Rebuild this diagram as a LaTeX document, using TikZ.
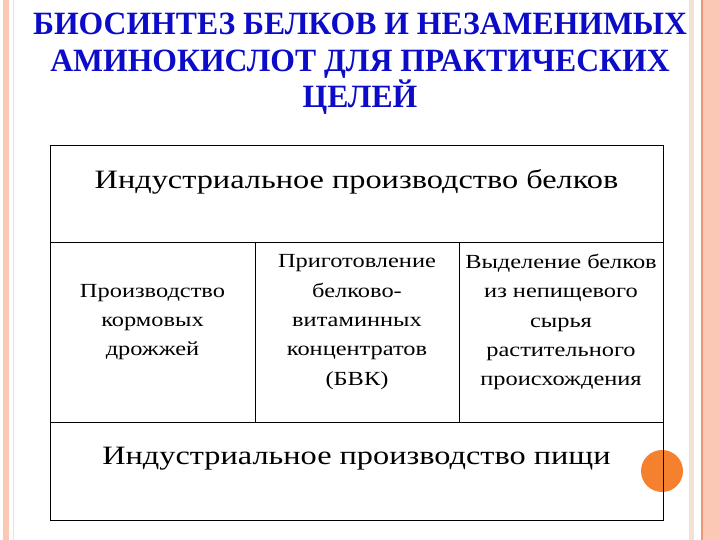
\documentclass[tikz,border=0pt]{standalone}
\usepackage{fontspec}
\setmainfont{Liberation Serif}
\newfontfamily\widefont[FakeStretch=1.22]{Liberation Serif}
\newfontfamily\titlefont[FakeStretch=0.975]{Liberation Serif}
\usetikzlibrary{positioning}

\definecolor{titleblue}{RGB}{12,12,200}
\definecolor{dotorange}{RGB}{245,128,45}
\definecolor{stripepink}{RGB}{252,200,182}
\definecolor{stripeline}{RGB}{238,150,115}
\definecolor{stripebeige}{RGB}{243,226,212}

\tikzset{
	cell/.style={draw=black, line width=1pt, inner sep=0pt, outer sep=0pt},
	celltext/.style={font=\widefont\fontsize{20}{29.3}\selectfont, align=center, inner sep=0pt},
	bigtext/.style={font=\widefont\fontsize{26.5}{30}\selectfont, inner sep=0pt},
}

\begin{document}
\begin{tikzpicture}[x=1pt,y=-1pt]
		\useasboundingbox (0,0) rectangle (720,540);
		% page strips
		\fill[stripepink] (3,0) rectangle (9,540);
		\draw[stripebeige] (13,0)--(13,540);
		\fill[stripebeige] (689,0) rectangle (694,540);
		\fill[stripepink] (702,0) rectangle (720,540);
		\draw[stripeline, line width=1.5pt] (702,0)--(702,540);

		\node[font=\titlefont\bfseries\fontsize{32.5}{36.5}\selectfont, text=titleblue, align=center, inner sep=0pt] (title) at (360,64)
			{БИОСИНТЕЗ БЕЛКОВ И НЕЗАМЕНИМЫХ\\АМИНОКИСЛОТ ДЛЯ ПРАКТИЧЕСКИХ\\ЦЕЛЕЙ};

		\fill[dotorange] (662,471) circle (21);

		\node[cell, minimum width=613, minimum height=96, anchor=north west] (protein) at (50,146) {};
		\node[cell, minimum width=205, minimum height=180, below right=0pt of protein.south west] (yeast) {};
		\node[cell, minimum width=204, minimum height=180, right=0pt of yeast] (bvk) {};
		\node[cell, minimum width=204, minimum height=180, right=0pt of bvk] (plant) {};
		\node[cell, minimum width=613, minimum height=98, below right=0pt of yeast.south west] (food) {};

		\node[bigtext] (proteintext) at ([yshift=12pt]protein.center) {Индустриальное производство белков};
		\node[celltext] (yeasttext) at ([yshift=10pt]yeast.center) {Производство\\кормовых\\дрожжей};
		\node[celltext] (bvktext) at ([yshift=10pt]bvk.center) {Приготовление\\белково-\\витаминных\\концентратов\\(БВК)};
		\node[celltext] (planttext) at ([yshift=10pt]plant.center) {Выделение белков\\из непищевого\\сырья\\растительного\\происхождения};
		\node[bigtext] (foodtext) at ([yshift=12pt]food.center) {Индустриальное производство пищи};
	\end{tikzpicture}
\end{document}
